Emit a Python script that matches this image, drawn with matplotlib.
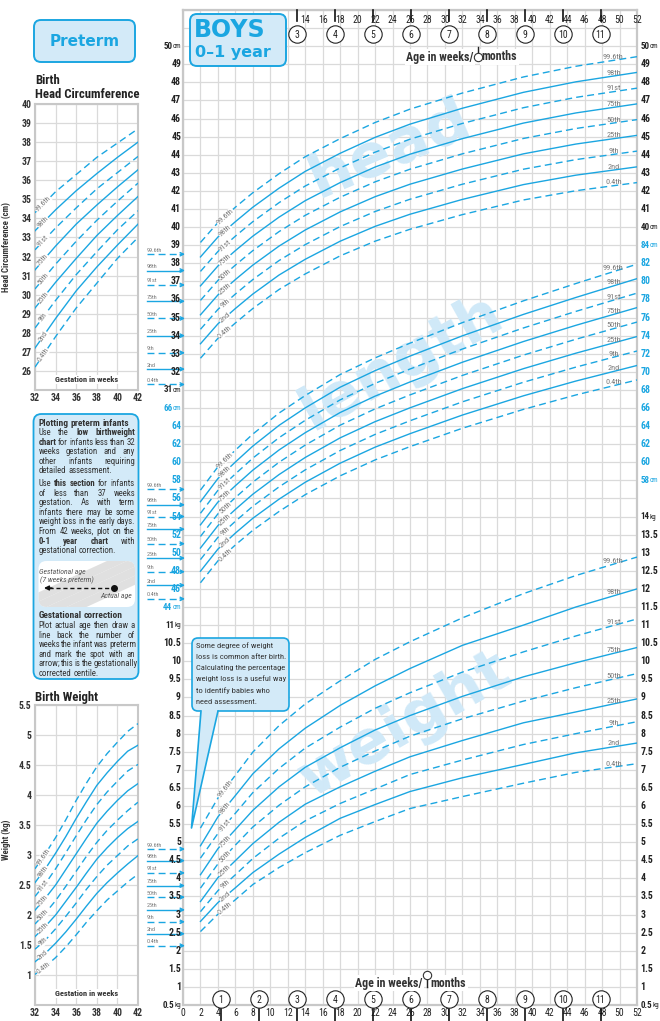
import numpy as np
import matplotlib.pyplot as plt
from matplotlib import font_manager
from matplotlib.patches import FancyBboxPatch, Polygon
from matplotlib.lines import Line2D
from matplotlib.text import Annotation
from matplotlib.transforms import Affine2D, blended_transform_factory as blend

# ---------------- data ----------------
centiles = ['0.4th', '2nd', '9th', '25th', '50th', '75th', '91st', '98th', '99.6th']
dashed = [True, False, True, False, True, False, True, False, True]

# main 0-1 year chart, age in weeks
weeks = [2, 4, 6, 8, 11, 14, 18, 22, 26, 32, 39, 45, 52]
head_cm = [
    [32.75, 33.85, 34.7, 35.5, 36.55, 37.41, 38.41, 39.22, 39.88, 40.69, 41.5, 42.01, 42.46],
    [33.55, 34.65, 35.5, 36.3, 37.35, 38.22, 39.22, 40.04, 40.71, 41.53, 42.35, 42.87, 43.33],
    [34.35, 35.45, 36.3, 37.1, 38.15, 39.03, 40.03, 40.86, 41.54, 42.37, 43.2, 43.73, 44.2],
    [35.15, 36.25, 37.1, 37.9, 38.95, 39.84, 40.84, 41.68, 42.37, 43.21, 44.05, 44.59, 45.07],
    [35.95, 37.05, 37.9, 38.7, 39.75, 40.65, 41.65, 42.5, 43.2, 44.05, 44.9, 45.45, 45.94],
    [36.75, 37.85, 38.7, 39.5, 40.55, 41.46, 42.46, 43.32, 44.03, 44.89, 45.75, 46.31, 46.81],
    [37.55, 38.65, 39.5, 40.3, 41.35, 42.27, 43.27, 44.14, 44.86, 45.73, 46.6, 47.17, 47.68],
    [38.35, 39.45, 40.3, 41.1, 42.15, 43.08, 44.08, 44.96, 45.69, 46.57, 47.45, 48.03, 48.55],
    [39.15, 40.25, 41.1, 41.9, 42.95, 43.89, 44.89, 45.78, 46.52, 47.41, 48.3, 48.89, 49.42],
]
length_cm = [
    [46.68, 49.1, 50.86, 52.48, 54.56, 56.42, 58.5, 60.26, 61.73, 63.76, 65.85, 67.44, 69.1],
    [47.96, 50.4, 52.17, 53.81, 55.92, 57.79, 59.9, 61.67, 63.16, 65.22, 67.35, 68.98, 70.7],
    [49.24, 51.7, 53.48, 55.14, 57.28, 59.16, 61.3, 63.08, 64.59, 66.68, 68.85, 70.52, 72.3],
    [50.52, 53.0, 54.79, 56.47, 58.64, 60.53, 62.7, 64.49, 66.02, 68.14, 70.35, 72.06, 73.9],
    [51.8, 54.3, 56.1, 57.8, 60.0, 61.9, 64.1, 65.9, 67.45, 69.6, 71.85, 73.6, 75.5],
    [53.08, 55.6, 57.41, 59.13, 61.36, 63.27, 65.5, 67.31, 68.88, 71.06, 73.35, 75.14, 77.1],
    [54.36, 56.9, 58.72, 60.46, 62.72, 64.64, 66.9, 68.72, 70.31, 72.52, 74.85, 76.68, 78.7],
    [55.64, 58.2, 60.03, 61.79, 64.08, 66.01, 68.3, 70.13, 71.74, 73.98, 76.35, 78.22, 80.3],
    [56.92, 59.5, 61.34, 63.12, 65.44, 67.38, 69.7, 71.54, 73.17, 75.44, 77.85, 79.76, 81.9],
]
weight_kg = [
    [2.53, 3.01, 3.41, 3.83, 4.30, 4.71, 5.19, 5.57, 5.93, 6.26, 6.63, 6.93, 7.17],
    [2.81, 3.33, 3.74, 4.16, 4.67, 5.13, 5.66, 6.04, 6.4, 6.78, 7.15, 7.47, 7.74],
    [3.08, 3.66, 4.10, 4.55, 5.11, 5.59, 6.07, 6.47, 6.87, 7.27, 7.7, 8.0, 8.33],
    [3.36, 4.02, 4.49, 4.96, 5.55, 6.05, 6.53, 6.96, 7.36, 7.81, 8.3, 8.6, 8.96],
    [3.73, 4.4, 4.92, 5.42, 6.02, 6.53, 7.07, 7.52, 7.93, 8.41, 8.9, 9.27, 9.66],
    [4.1, 4.82, 5.35, 5.88, 6.53, 7.07, 7.61, 8.1, 8.5, 9.03, 9.57, 9.96, 10.38],
    [4.56, 5.24, 5.80, 6.37, 7.04, 7.60, 8.18, 8.7, 9.13, 9.70, 10.26, 10.7, 11.17],
    [4.9, 5.7, 6.29, 6.89, 7.58, 8.15, 8.78, 9.32, 9.8, 10.44, 11.0, 11.5, 12.0],
    [5.39, 6.22, 6.85, 7.49, 8.22, 8.82, 9.46, 10.05, 10.54, 11.2, 11.87, 12.37, 12.88],
]

# birth values marked by the arrows at the left edge
birth_head = [31.3, 32.15, 33.05, 34.0, 34.95, 35.9, 36.8, 37.6, 38.5]
birth_length = [44.9, 46.4, 47.9, 49.4, 51.0, 52.6, 54.0, 55.3, 57.0]
birth_weight = [2.14, 2.47, 2.8, 3.13, 3.48, 3.8, 4.15, 4.49, 4.81]

# preterm panels, gestation in weeks
head_gest = [32, 34, 36, 38, 40, 42]
preterm_head = [
    [26.2, 27.8, 29.3, 30.6, 31.9, 33.0],
    [27.2, 28.75, 30.2, 31.45, 32.6, 33.7],
    [28.25, 29.7, 31.05, 32.25, 33.4, 34.4],
    [29.3, 30.65, 31.9, 33.1, 34.15, 35.15],
    [30.3, 31.6, 32.8, 33.9, 34.9, 35.85],
    [31.3, 32.55, 33.7, 34.7, 35.65, 36.55],
    [32.35, 33.5, 34.55, 35.55, 36.4, 37.25],
    [33.35, 34.45, 35.45, 36.35, 37.2, 38.0],
    [34.3, 35.4, 36.3, 37.2, 37.95, 38.7],
]
weight_gest = [32, 33, 34, 35, 36, 37, 38, 39, 40, 41, 42]
preterm_weight = [
    [1.01, 1.14, 1.29, 1.47, 1.67, 1.88, 2.07, 2.25, 2.40, 2.55, 2.68],
    [1.22, 1.36, 1.53, 1.72, 1.93, 2.15, 2.36, 2.54, 2.70, 2.85, 2.99],
    [1.43, 1.58, 1.77, 1.98, 2.20, 2.43, 2.64, 2.83, 2.99, 3.15, 3.27],
    [1.64, 1.81, 2.00, 2.23, 2.46, 2.70, 2.93, 3.12, 3.29, 3.44, 3.56],
    [1.85, 2.03, 2.24, 2.48, 2.73, 2.98, 3.21, 3.41, 3.58, 3.74, 3.88],
    [2.08, 2.28, 2.50, 2.76, 3.02, 3.28, 3.53, 3.73, 3.91, 4.07, 4.19],
    [2.31, 2.52, 2.77, 3.04, 3.32, 3.59, 3.84, 4.05, 4.23, 4.40, 4.51],
    [2.54, 2.77, 3.03, 3.31, 3.61, 3.89, 4.16, 4.37, 4.56, 4.73, 4.83],
    [2.77, 3.02, 3.29, 3.59, 3.91, 4.20, 4.47, 4.69, 4.88, 5.06, 5.19],
]

# axis labels
head_left = list(range(31, 51))
length_left = list(range(44, 67, 2))
weight_left = [v / 2 for v in range(1, 23)]
head_right = list(range(40, 51))
length_right = list(range(58, 85, 2))
weight_right = [v / 2 for v in range(1, 29)]
months_top = list(range(3, 12))
months_bottom = list(range(1, 12))
WEEKS_PER_MONTH = 4.348

# ---------------- fonts: prefer a condensed sans ----------------
entries = font_manager.fontManager.ttflist
names = {f.name for f in entries}
condensed = {f.name for f in entries if 'condensed' in str(f.stretch) or 'narrow' in str(f.stretch)}
stretch = 'normal'
FONT = 'Liberation Sans'
for cand in ['Roboto Condensed', 'Liberation Sans Narrow', 'Open Sans Condensed', 'Noto Sans Condensed']:
    if cand in names:
        FONT = cand
        break
else:
    for cand in ['Roboto', 'Noto Sans', 'Open Sans', 'DejaVu Sans']:
        if cand in condensed:
            FONT, stretch = cand, 'condensed'
            break
plt.rcParams['font.family'] = [FONT, 'DejaVu Sans']
plt.rcParams['font.stretch'] = stretch

# ---------------- styling ----------------
CYAN = '#1ba6e1'
GRID = '#dadada'
FRAME = '#c8c8c8'
GREY = '#7a7a7a'
TXT = '#333333'
BOXFILL = '#d3eaf8'
DASH = (0, (5, 3))

W, H = 660, 1021
fig = plt.figure(figsize=(W / 100, H / 100), dpi=100)
PX = Affine2D().scale(1 / W, -1 / H).translate(0, 1) + fig.transFigure
renderer = fig.canvas.get_renderer()


def width_of(text, size, **kw):
    t = fig.text(0, 0, text, fontsize=size, **kw)
    w = t.get_window_extent(renderer).width
    t.remove()
    return w


def fit(text, max_w, size, **kw):
    return size * min(1.0, max_w / width_of(text, size, **kw))


def rect(x0, y0, x1, y1):
    return [x0 / W, 1 - y1 / H, (x1 - x0) / W, (y1 - y0) / H]


def rbox(x0, y0, x1, y1, fc, ec, lw=1.3, r=6, z=1):
    p = FancyBboxPatch((x0, y0), x1 - x0, y1 - y0,
                       boxstyle=f'round,pad=0,rounding_size={r}',
                       fc=fc, ec=ec, lw=lw, transform=PX, zorder=z)
    fig.add_artist(p)
    return p


def fline(xs, ys, tr=PX, **kw):
    ln = Line2D(xs, ys, transform=tr, **kw)
    fig.add_artist(ln)
    return ln


def ls_for(d):
    return DASH if d else '-'


TICK = 7.0
UNIT_NUM = 6.5
UNIT = 5.0
CLAB_SIZE = fit('99.6th', 21, 6)
ARROW_LAB = fit('99.6th', 15.5, 5)
WEEK_SIZE = fit('52', 10.5, 7)


def curve_label(a, xs, ys, wk, text, size, dx=0.4):
    yc = np.interp(wk, xs, ys)
    p0 = a.transData.transform((wk - dx, np.interp(wk - dx, xs, ys)))
    p1 = a.transData.transform((wk + dx, np.interp(wk + dx, xs, ys)))
    ang = np.degrees(np.arctan2(p1[1] - p0[1], p1[0] - p0[0]))
    a.text(wk, yc, text, rotation=ang, rotation_mode='anchor', ha='center',
           va='center', fontsize=size, color=GREY, zorder=5,
           bbox=dict(fc='white', ec='none', pad=0.15))


def scale_label(x, v, tr, num, unit, side, col):
    # number in bold, optional unit in a smaller face right after it
    if not unit:
        fig.text(x, v, num, transform=tr, ha=side, va='center', fontsize=TICK,
                 fontweight='bold', color=col, zorder=4)
        return
    wn = width_of(num, UNIT_NUM, fontweight='bold')
    wu = width_of(unit, UNIT)
    x0 = x if side == 'left' else x - wn - wu
    fig.text(x0, v, num, transform=tr, ha='left', va='center', fontsize=UNIT_NUM,
             fontweight='bold', color=col, zorder=4)
    fig.text(x0 + wn, v, unit, transform=tr + Affine2D().translate(0, -0.6), ha='left',
             va='center', fontsize=UNIT, color=col, zorder=4)


# ---------------- main grid ----------------
ax = fig.add_axes(rect(183, 10, 637, 1005))
ax.set_xlim(0, 52)
ax.set_ylim(0, 55)
ax.set_xticks(np.arange(0, 53, 2))
ax.set_yticks(np.arange(0, 56, 1))
ax.grid(True, color=GRID, lw=0.9)
ax.set_axisbelow(True)
ax.tick_params(length=0, labelbottom=False, labelleft=False)
for s in ax.spines.values():
    s.set_color(FRAME)
    s.set_linewidth(1.6)

# watermarks
for word, x, y, rot in [('head', 390, 150, 23), ('length', 402, 362, 29), ('weight', 405, 725, 30)]:
    ax.text(x, y, word, transform=PX, fontsize=44, fontweight='bold',
            family='DejaVu Sans', stretch='normal', color='#d0e9f8', ha='center',
            va='center', rotation=rot, zorder=1.5)


def overlay(lo, hi):
    a = fig.add_axes(rect(183, 10, 637, 1005))
    a.set_xlim(0, 52)
    a.set_ylim(lo, hi)
    a.axis('off')
    return a


ah = overlay(-3, 52)
al = overlay(0, 110)
aw = overlay(0.5, 28)

for a, rows, births, lefts, rights, col, unit in [
        (ah, head_cm, birth_head, head_left, head_right, '#222222', 'cm'),
        (al, length_cm, birth_length, length_left, length_right, CYAN, 'cm'),
        (aw, weight_kg, birth_weight, weight_left, weight_right, '#222222', 'kg')]:
    for vals, d, name in zip(rows, dashed, centiles):
        a.plot(weeks, vals, color=CYAN, lw=1.0, ls=ls_for(d), zorder=3)
        curve_label(a, weeks, vals, 4.8, name, CLAB_SIZE)
        yv = np.interp(49.3, weeks, vals)
        a.annotate(name, (49.3, yv), xytext=(0, 0.3), textcoords='offset points',
                   ha='center', va='bottom', fontsize=CLAB_SIZE, color=GREY, zorder=5)
    T = blend(PX, a.transData)
    for v, d, name in zip(births, dashed, centiles):
        fline([147, 181], [v, v], tr=T, color=CYAN, lw=1.0, ls=ls_for(d))
        an = Annotation('', xy=(185, v), xytext=(180, v), xycoords=T, textcoords=T,
                        arrowprops=dict(arrowstyle='->', color=CYAN, lw=1.0,
                                        shrinkA=0, shrinkB=0, mutation_scale=6))
        fig.add_artist(an)
        fig.text(147, v, name, transform=T + Affine2D().translate(0, 1.5),
                 fontsize=ARROW_LAB, color=GREY, ha='left', va='bottom')
    for i, v in enumerate(lefts):
        u = unit if i in (0, len(lefts) - 1) else ''
        scale_label(181, v, T, f'{v:g}', u, 'right', col)
    for i, v in enumerate(rights):
        u = unit if i in (0, len(rights) - 1) else ''
        scale_label(640.5, v, T, f'{v:g}', u, 'left', col)

# week and month scales
XT = blend(ax.transData, PX)
for wk in range(14, 53, 2):
    ax.text(wk, 20, str(wk), transform=XT, ha='center', va='center', fontsize=WEEK_SIZE, color='#222')
for wk in range(0, 53, 2):
    ax.text(wk, 1013, str(wk), transform=XT, ha='center', va='center', fontsize=WEEK_SIZE, color='#222')
for m in months_top:
    x = m * WEEKS_PER_MONTH
    ax.plot([x, x], [10, 21], transform=XT, color='#111', lw=1.2, clip_on=False, zorder=6)
    ax.plot([x], [34], transform=XT, marker='o', ms=12.5, mfc='white', mec='#222', mew=0.8, clip_on=False, zorder=6)
    ax.text(x, 34.5, str(m), transform=XT, ha='center', va='center', fontsize=WEEK_SIZE, color='#222', zorder=7)
for m in months_bottom:
    x = m * WEEKS_PER_MONTH
    ax.plot([x, x], [1006, 1021], transform=XT, color='#111', lw=1.2, clip_on=False, zorder=6)
    ax.plot([x], [999], transform=XT, marker='o', ms=12.5, mfc='white', mec='#222', mew=0.8, clip_on=False, zorder=6)
    ax.text(x, 999.5, str(m), transform=XT, ha='center', va='center', fontsize=WEEK_SIZE, color='#222', zorder=7)

# "Age in weeks / months" captions
AGE_SIZE = fit('Age in weeks/', 67, 9, fontweight='bold')
for ytxt, yc, ytick, xc in [(57, 57, (47, 52), 477.7), (983, 975, (978, 987), 426.7)]:
    fig.text(xc - 4, ytxt, 'Age in weeks/', transform=PX, ha='right', va='center',
             fontsize=AGE_SIZE, fontweight='bold', color='#333',
             bbox=dict(fc='white', ec='none', pad=1.2))
    fig.text(xc + 4, ytxt, 'months', transform=PX, ha='left', va='center',
             fontsize=AGE_SIZE, fontweight='bold', color='#333',
             bbox=dict(fc='white', ec='none', pad=1.2))
    fline([xc, xc], list(ytick), color='#222', lw=1)
    fline([xc], [yc], marker='o', ms=6, mfc='white', mec='#333', mew=0.8, ls='none', zorder=4)

# BOYS label
rbox(190, 14, 286, 66, BOXFILL, CYAN, lw=1.4, r=7)
fig.text(194, 30, 'BOYS', transform=PX, fontsize=17, fontweight='bold', family='DejaVu Sans',
         stretch='normal', color=CYAN, ha='left', va='center', zorder=4)
fig.text(195, 53, '0–1 year', transform=PX, fontsize=11.5, fontweight='bold', family='DejaVu Sans',
         stretch='normal', color=CYAN, ha='left', va='center', zorder=4)

# weight-loss callout
rbox(192, 638, 289, 711, BOXFILL, CYAN, lw=1.2, r=6, z=5)
fig.add_artist(Polygon([(201, 709), (218, 709), (191.5, 828)], closed=True, transform=PX,
                       fc=BOXFILL, ec='none', zorder=5.5))
fline([201, 191.5, 218], [711, 828, 711], color=CYAN, lw=1.2, zorder=5.6)
callout = ['Some degree of weight', 'loss is common after birth.',
           'Calculating the percentage', 'weight loss is a useful way',
           'to identify babies who', 'need assessment.']
CALL_SIZE = min(fit(s, 90, 8) for s in callout)
for i, s in enumerate(callout):
    fig.text(196.5, 645.5 + i * 11.2, s, transform=PX, fontsize=CALL_SIZE, color=TXT,
             ha='left', va='center', zorder=6)

# ---------------- preterm panels ----------------
rbox(34, 20, 135, 62, BOXFILL, CYAN, lw=1.4, r=7)
fig.text(84.5, 41, 'Preterm', transform=PX, fontsize=11, fontweight='bold', family='DejaVu Sans',
         stretch='normal', color=CYAN, ha='center', va='center', zorder=4)
TITLE_SIZE = fit('Head Circumference', 104, 11, fontweight='bold')
fig.text(35, 80, 'Birth', transform=PX, fontsize=TITLE_SIZE, fontweight='bold', color='#222', va='center')
fig.text(35, 95, 'Head Circumference', transform=PX, fontsize=TITLE_SIZE, fontweight='bold', color='#222', va='center')
fig.text(35, 697, 'Birth Weight', transform=PX, fontsize=TITLE_SIZE, fontweight='bold', color='#222', va='center')

PT_TICK = 7.0
GEST_SIZE = fit('Gestation in weeks', 63, 7.5, fontweight='bold')
PT_CLAB = fit('99.6th', 19, 6)


def preterm_axes(y0, y1, lo, hi, step, xs, rows, ylabel, ylab_y):
    p = fig.add_axes(rect(35, y0, 138, y1))
    p.set_xlim(32, 42)
    p.set_ylim(lo, hi)
    p.set_xticks(range(32, 43, 2))
    yt = np.arange(lo, hi + step / 2, step)
    p.set_yticks(yt)
    p.set_yticklabels(['' if v == lo else f'{v:g}' for v in yt])
    p.grid(True, color=GRID, lw=0.9)
    p.set_axisbelow(True)
    p.tick_params(length=0, labelsize=PT_TICK, pad=2.5, labelcolor='#333')
    for lab in p.get_xticklabels() + p.get_yticklabels():
        lab.set_fontweight('bold')
    for s in p.spines.values():
        s.set_color(FRAME)
        s.set_linewidth(1.5)
    p.set_ylabel(ylabel, fontsize=6.3, fontweight='bold', color='#333')
    p.yaxis.set_label_coords(-0.23, ylab_y)
    for vals, d, name in zip(rows, dashed, centiles):
        p.plot(xs, vals, color=CYAN, lw=1.0, ls=ls_for(d), zorder=3)
        curve_label(p, xs, vals, 32.8, name, PT_CLAB, dx=0.3)
    p.text(37, lo + (hi - lo) * 0.038, 'Gestation in weeks', ha='center', va='center',
           fontsize=GEST_SIZE, fontweight='bold', color='#333', zorder=6,
           bbox=dict(fc='white', ec='none', pad=0.8))
    return p


preterm_axes(104, 390, 25, 40, 1, head_gest, preterm_head, 'Head Circumference (cm)', 0.5)
preterm_axes(705, 1005, 0.5, 5.5, 0.5, weight_gest, preterm_weight, 'Weight (kg)', 0.55)

# ---------------- notes box ----------------
rbox(33.5, 414, 138.5, 679, BOXFILL, CYAN, lw=1.3, r=8)

notes = [
    (425.5, [('Plotting preterm infants', True)], 'head', False),
    (435.0, [('Use the', False), ('low birthweight', True)], 'body', True),
    (444.6, [('chart', True), ('for infants less than 32', False)], 'body', True),
    (454.2, [('weeks gestation and any', False)], 'body', True),
    (463.8, [('other infants requiring', False)], 'body', True),
    (473.4, [('detailed assessment.', False)], 'body', False),
    (486.0, [('Use', False), ('this section', True), ('for infants', False)], 'body', True),
    (495.6, [('of less than 37 weeks', False)], 'body', True),
    (505.2, [('gestation. As with term', False)], 'body', True),
    (514.8, [('infants there may be some', False)], 'body', True),
    (524.4, [('weight loss in the early days.', False)], 'body', True),
    (534.0, [('From 42 weeks, plot on the', False)], 'body', True),
    (543.6, [('0-1 year chart', True), ('with', False)], 'body', True),
    (553.2, [('gestational correction.', False)], 'body', False),
    (617.5, [('Gestational correction', True)], 'title', False),
    (628.0, [('Plot actual age then draw a', False)], 'body', True),
    (637.6, [('line back the number of', False)], 'body', True),
    (647.2, [('weeks the infant was preterm', False)], 'body', True),
    (656.8, [('and mark the spot with an', False)], 'body', True),
    (666.4, [('arrow; this is the gestationally', False)], 'body', True),
    (676.0, [('corrected centile.', False)], 'body', False),
]
BODY = 1.06 * min(fit(' '.join(t for t, _ in parts), 98, 8) for _, parts, kind, _ in notes if kind == 'body')
SIZES = {'body': BODY,
         'head': fit('Plotting preterm infants', 90, 8, fontweight='bold'),
         'title': fit('Gestational correction', 84, 9, fontweight='bold')}


def draw_line(y, parts, size, justify, x0=38.5, x1=135.0):
    words = []
    for txt, bold in parts:
        for w in txt.split():
            words.append((w, bold))
    arts = [fig.text(0, y, w, transform=PX, fontsize=size, color=TXT, zorder=4,
                     fontweight='bold' if b else 'normal', ha='left', va='baseline')
            for w, b in words]
    widths = [t.get_window_extent(renderer).width for t in arts]
    gap = size * 0.32
    if justify and len(arts) > 1:
        gap = max(gap * 0.5, (x1 - x0 - sum(widths)) / (len(arts) - 1))
    x = x0
    for t, w in zip(arts, widths):
        t.set_x(x)
        x += w + gap


for y, parts, kind, just in notes:
    draw_line(y, parts, SIZES[kind], just)

# small gestational-correction sketch
sketch = rbox(38.5, 561, 135, 607, 'white', 'none', lw=0, r=8, z=2)
for off in (-20, 0, 20, 40):
    ln = fline([30 + off, 150 + off], [610, 555], color='#d9d9d9', lw=6, alpha=0.8, zorder=2.5)
    ln.set_clip_path(sketch)
SK = fit('(7 weeks preterm)', 54, 7, style='italic')
fig.text(39, 572, 'Gestational age', transform=PX, fontsize=SK, style='italic', color='#555', va='center', zorder=4)
fig.text(40, 580.5, '(7 weeks preterm)', transform=PX, fontsize=SK, style='italic', color='#555', va='center', zorder=4)
fline([49, 113], [588, 588], color='#111', lw=1.0, ls=(0, (3, 2)), zorder=4)
fline([114], [588], marker='o', ms=4, color='#111', ls='none', zorder=4)
fig.add_artist(Annotation('', xy=(44, 588), xytext=(52, 588), xycoords=PX, textcoords=PX,
                          arrowprops=dict(arrowstyle='-|>', color='#111', lw=1.0,
                                          shrinkA=0, shrinkB=0, mutation_scale=7), zorder=4))
fig.text(132, 596, 'Actual age', transform=PX, fontsize=SK, style='italic', color='#555',
         ha='right', va='center', zorder=4)

fig.savefig('out.png', dpi=100)
